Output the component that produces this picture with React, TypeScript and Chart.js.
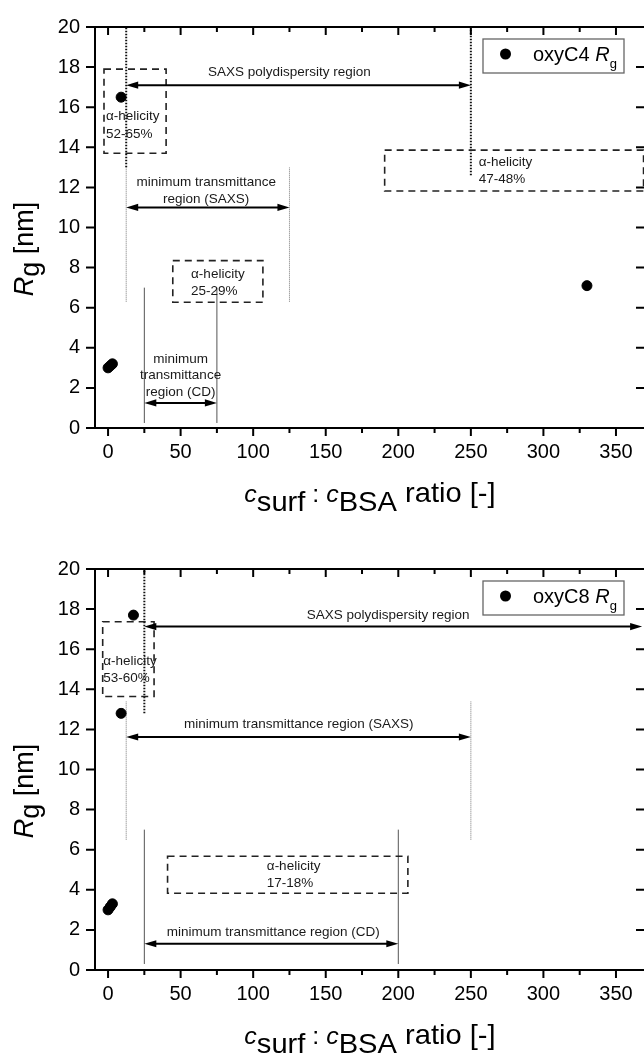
import React, { useEffect, useRef } from "react";
import { Chart, registerables } from "chart.js";

Chart.register(...registerables);

const FONT = '"Liberation Sans", Arial, Helvetica, sans-serif';

// axes
const xTicks = [0, 50, 100, 150, 200, 250, 300, 350];
const xMinorTicks = [25, 75, 125, 175, 225, 275, 325];
const yTicks = [0, 2, 4, 6, 8, 10, 12, 14, 16, 18, 20];
const xRange = [-9, 370];
const yRange = [0, 20];

// series
const c4Ratio = [0, 1.5, 3, 9, 330];
const c4Rg = [3.0, 3.1, 3.2, 16.5, 7.1];
const c8Ratio = [0, 1.5, 3, 9, 17.5];
const c8Rg = [3.0, 3.15, 3.3, 12.8, 17.7];

// annotations (data coordinates)
// vertical lines: [x, yFrom, yTo]
const c4PolyLines = [[12.5, 13, 20], [250, 12.6, 20]];
const c4SaxsLines = [[12.5, 6.3, 13], [125, 6.3, 13]];
const c4CdLines = [[25, 0.25, 7], [75, 0.25, 7]];
// arrows: [xFrom, xTo, y]
const c4Arrows = [[12.5, 250, 17.1], [12.5, 125, 11], [25, 75, 1.25]];
// boxes: [x0, y0, x1, y1]
const c4Boxes = [[-2.8, 13.7, 40, 17.9], [44.6, 6.27, 106.7, 8.35], [190.6, 11.82, 369, 13.86]];
// notes: [text, x, y, align]
const c4Notes = [
  ["SAXS polydispersity region", 125, 17.75, "center"],
  ["minimum transmittance", 67.6, 12.25, "center"],
  ["region (SAXS)", 67.6, 11.42, "center"],
  ["α-helicity", -1.4, 15.54, "left"],
  ["52-65%", -1.4, 14.67, "left"],
  ["α-helicity", 57.2, 7.69, "left"],
  ["25-29%", 57.2, 6.81, "left"],
  ["minimum", 50, 3.44, "center"],
  ["transmittance", 50, 2.65, "center"],
  ["region (CD)", 50, 1.79, "center"],
  ["α-helicity", 255.4, 13.23, "left"],
  ["47-48%", 255.4, 12.38, "left"],
];

const c8PolyLines = [[25, 12.8, 20]];
const c8SaxsLines = [[12.5, 6.5, 13.4], [250, 6.5, 13.4]];
const c8CdLines = [[25, 0.3, 7], [200, 0.3, 7]];
const c8Arrows = [[25, 368, 17.13], [12.5, 250, 11.62], [25, 200, 1.31]];
const c8Boxes = [[-3.7, 13.64, 31.7, 17.37], [41, 3.83, 206.6, 5.67]];
const c8Notes = [
  ["SAXS polydispersity region", 193, 17.7, "center"],
  ["α-helicity", -3.4, 15.4, "left"],
  ["53-60%", -3.4, 14.55, "left"],
  ["minimum transmittance region (SAXS)", 131.4, 12.28, "center"],
  ["α-helicity", 109.4, 5.18, "left"],
  ["17-18%", 109.4, 4.32, "left"],
  ["minimum transmittance region (CD)", 113.8, 1.86, "center"],
];

type Part = { t: string; size: number; italic?: boolean; dy?: number };

function richText(ctx: CanvasRenderingContext2D, parts: Part[], x: number, y: number, align: string, scaleX: number) {
  const widths = parts.map((p) => {
    ctx.font = `${p.italic ? "italic " : ""}${p.size}px ${FONT}`;
    return ctx.measureText(p.t).width * scaleX;
  });
  const total = widths.reduce((a, b) => a + b, 0);
  let cx = align === "center" ? x - total / 2 : x;
  ctx.textAlign = "left";
  ctx.textBaseline = "alphabetic";
  parts.forEach((p, i) => {
    ctx.font = `${p.italic ? "italic " : ""}${p.size}px ${FONT}`;
    ctx.save();
    ctx.translate(cx, y + (p.dy || 0));
    ctx.scale(scaleX, 1);
    ctx.fillText(p.t, 0, 0);
    ctx.restore();
    cx += widths[i];
  });
}

function makePlugins(spec: any) {
  const annot = {
    id: "annot",
    beforeDatasetsDraw(chart: any) {
      const ctx: CanvasRenderingContext2D = chart.ctx;
      const xs = chart.scales.x;
      const ys = chart.scales.y;
      const px = (v: number) => xs.getPixelForValue(v);
      const py = (v: number) => ys.getPixelForValue(v);
      ctx.save();
      ctx.lineCap = "butt";
      const vline = (arr: number[][]) =>
        arr.forEach(([xv, y0, y1]) => {
          ctx.beginPath();
          ctx.moveTo(px(xv), py(y0));
          ctx.lineTo(px(xv), py(y1));
          ctx.stroke();
        });
      // thin solid CD lines
      ctx.strokeStyle = "#555";
      ctx.lineWidth = 1;
      ctx.setLineDash([]);
      vline(spec.cd);
      // thin dotted SAXS lines
      ctx.strokeStyle = "#777";
      ctx.lineWidth = 1;
      ctx.setLineDash([1, 1]);
      vline(spec.saxs);
      // thick dotted polydispersity lines
      ctx.strokeStyle = "#111";
      ctx.lineWidth = 2;
      ctx.setLineDash([1.5, 1.5]);
      vline(spec.poly);
      // dashed boxes
      ctx.strokeStyle = "#222";
      ctx.lineWidth = 1.6;
      ctx.setLineDash([7, 5]);
      spec.boxes.forEach(([x0, y0, x1, y1]: number[]) => {
        ctx.beginPath();
        ctx.rect(px(x0), py(y1), px(x1) - px(x0), py(y0) - py(y1));
        ctx.stroke();
      });
      // arrows
      ctx.setLineDash([]);
      ctx.strokeStyle = "#000";
      ctx.fillStyle = "#000";
      ctx.lineWidth = 2;
      spec.arrows.forEach(([x0, x1, yv]: number[]) => {
        const a = px(x0);
        const b = px(x1);
        const y = py(yv);
        const L = 12;
        const H = 3.6;
        ctx.beginPath();
        ctx.moveTo(a + L - 1, y);
        ctx.lineTo(b - L + 1, y);
        ctx.stroke();
        ctx.beginPath();
        ctx.moveTo(a, y);
        ctx.lineTo(a + L, y - H);
        ctx.lineTo(a + L, y + H);
        ctx.closePath();
        ctx.fill();
        ctx.beginPath();
        ctx.moveTo(b, y);
        ctx.lineTo(b - L, y - H);
        ctx.lineTo(b - L, y + H);
        ctx.closePath();
        ctx.fill();
      });
      // notes
      ctx.fillStyle = "#1a1a1a";
      ctx.font = `13.5px ${FONT}`;
      ctx.textBaseline = "middle";
      spec.notes.forEach(([t, xv, yv, al]: any[]) => {
        ctx.textAlign = al;
        ctx.fillText(t, px(xv), py(yv));
      });
      ctx.restore();
    },
  };

  const frame = {
    id: "frame",
    afterDraw(chart: any) {
      const ctx: CanvasRenderingContext2D = chart.ctx;
      const a = chart.chartArea;
      const xs = chart.scales.x;
      const ys = chart.scales.y;
      ctx.save();
      ctx.strokeStyle = "#000";
      ctx.lineWidth = 2;
      ctx.setLineDash([]);
      ctx.beginPath();
      ctx.rect(a.left, a.top, a.right - a.left, a.bottom - a.top);
      ctx.stroke();
      ctx.beginPath();
      xTicks.forEach((v) => {
        const p = xs.getPixelForValue(v);
        ctx.moveTo(p, a.bottom);
        ctx.lineTo(p, a.bottom + 8);
        ctx.moveTo(p, a.top);
        ctx.lineTo(p, a.top + 8);
      });
      xMinorTicks.forEach((v) => {
        const p = xs.getPixelForValue(v);
        ctx.moveTo(p, a.bottom);
        ctx.lineTo(p, a.bottom + 5);
        ctx.moveTo(p, a.top);
        ctx.lineTo(p, a.top + 5);
      });
      yTicks.forEach((v) => {
        const p = ys.getPixelForValue(v);
        ctx.moveTo(a.left - 9, p);
        ctx.lineTo(a.left, p);
        ctx.moveTo(a.right, p);
        ctx.lineTo(a.right - 9, p);
      });
      ctx.stroke();

      // axis titles
      ctx.fillStyle = "#000";
      richText(
        ctx,
        [
          { t: "c", size: 24, italic: true },
          { t: "surf", size: 28, dy: 9 },
          { t: " : ", size: 24 },
          { t: "c", size: 24, italic: true },
          { t: "BSA", size: 28, dy: 9 },
          { t: " ratio [-]", size: 28 },
        ],
        (a.left + a.right) / 2,
        a.bottom + 74,
        "center",
        1.04
      );
      ctx.save();
      ctx.translate(33, a.top + 222);
      ctx.rotate(-Math.PI / 2);
      richText(
        ctx,
        [
          { t: "R", size: 27, italic: true },
          { t: "g", size: 27, dy: 6 },
          { t: " [nm]", size: 27 },
        ],
        0,
        0,
        "center",
        1
      );
      ctx.restore();

      // legend
      const lx = a.right - 162;
      const ly = a.top + 12;
      ctx.strokeStyle = "#666";
      ctx.lineWidth = 1.3;
      ctx.strokeRect(lx, ly, 141, 34);
      ctx.fillStyle = "#000";
      ctx.beginPath();
      ctx.arc(lx + 22.5, ly + 15, 5.5, 0, Math.PI * 2);
      ctx.fill();
      richText(
        ctx,
        [
          { t: spec.label + " ", size: 20 },
          { t: "R", size: 20, italic: true },
          { t: "g", size: 13, dy: 7 },
        ],
        lx + 50,
        ly + 22,
        "left",
        1
      );
      ctx.restore();
    },
  };
  return [annot, frame];
}

function RgChart({ top, spec }: { top: number; spec: any }) {
  const ref = useRef<HTMLCanvasElement>(null);
  useEffect(() => {
    const canvas = ref.current!;
    const chart = new Chart(canvas, {
      type: "scatter",
      data: {
        datasets: [
          {
            label: spec.label,
            data: spec.xs.map((x: number, i: number) => ({ x, y: spec.ys[i] })),
            backgroundColor: "#000",
            borderColor: "#000",
            pointRadius: 5,
            pointHoverRadius: 5,
            pointStyle: "circle",
          },
        ],
      },
      options: {
        animation: false,
        responsive: false,
        maintainAspectRatio: false,
        devicePixelRatio: 1,
        layout: { padding: { left: 0, right: 15, top: spec.padTop, bottom: 0 } },
        plugins: { legend: { display: false }, tooltip: { enabled: false } },
        scales: {
          x: {
            type: "linear",
            min: xRange[0],
            max: xRange[1],
            grid: { display: false, drawTicks: false },
            border: { display: false },
            ticks: {
              color: "#000",
              font: { family: FONT, size: 20 },
              padding: 12,
              maxRotation: 0,
              autoSkip: false,
            },
            afterBuildTicks: (s: any) => {
              s.ticks = xTicks.map((v) => ({ value: v }));
            },
            afterFit: (s: any) => {
              s.height = spec.xHeight;
            },
          },
          y: {
            type: "linear",
            min: yRange[0],
            max: yRange[1],
            grid: { display: false, drawTicks: false },
            border: { display: false },
            ticks: {
              color: "#000",
              font: { family: FONT, size: 20 },
              padding: 15,
              autoSkip: false,
            },
            afterBuildTicks: (s: any) => {
              s.ticks = yTicks.map((v) => ({ value: v }));
            },
            afterFit: (s: any) => {
              s.width = 95;
            },
          },
        },
      },
      plugins: makePlugins(spec) as any,
    });
    return () => chart.destroy();
  }, []);
  return (
    <canvas
      ref={ref}
      width={660}
      height={515}
      style={{ position: "absolute", left: 0, top, width: 660, height: 515 }}
    />
  );
}

const c4Spec = {
  label: "oxyC4",
  xs: c4Ratio,
  ys: c4Rg,
  poly: c4PolyLines,
  saxs: c4SaxsLines,
  cd: c4CdLines,
  arrows: c4Arrows,
  boxes: c4Boxes,
  notes: c4Notes,
  padTop: 23,
  xHeight: 87,
};

const c8Spec = {
  label: "oxyC8",
  xs: c8Ratio,
  ys: c8Rg,
  poly: c8PolyLines,
  saxs: c8SaxsLines,
  cd: c8CdLines,
  arrows: c8Arrows,
  boxes: c8Boxes,
  notes: c8Notes,
  padTop: 22,
  xHeight: 87,
};

export default function App() {
  return (
    <div
      style={{
        position: "absolute",
        left: 0,
        top: 0,
        width: 644,
        height: 1056,
        overflow: "hidden",
        background: "#fff",
      }}
    >
      <RgChart top={0} spec={c4Spec} />
      <RgChart top={542} spec={c8Spec} />
    </div>
  );
}
